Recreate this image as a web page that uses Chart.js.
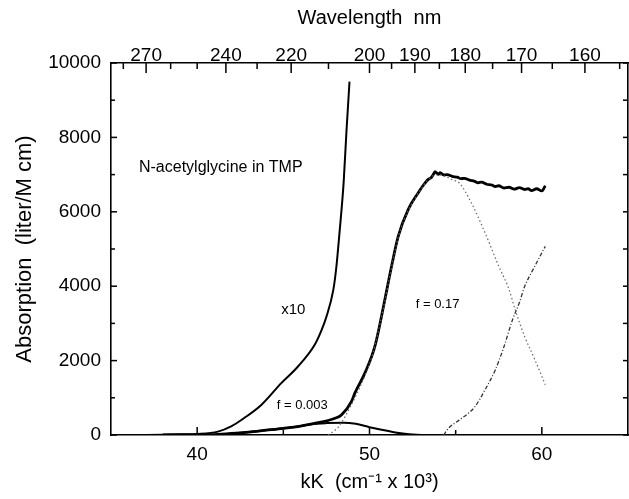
<!DOCTYPE html>
<html>
<head>
<meta charset="utf-8">
<script src="https://cdn.jsdelivr.net/npm/chart.js@4.4.0/dist/chart.umd.min.js"></script>
<style>
  html, body { margin: 0; padding: 0; background: #fff; }
  #wrap { width: 629px; height: 499px; }
</style>
</head>
<body>
<div id="wrap"><canvas id="grafico" width="629" height="499"></canvas></div>
<script>
// axis ticks
const kkTicks = [40, 45, 50, 55, 60];
const kkLabels = [40, 50, 60];
const absTicks = [0, 1000, 2000, 3000, 4000, 5000, 6000, 7000, 8000, 9000, 10000];
const absLabels = [0, 2000, 4000, 6000, 8000, 10000];
const nmTicks = [280, 270, 260, 250, 240, 230, 220, 210, 200, 195, 190, 185, 180, 175, 170, 165, 160, 155];
const nmLabels = [270, 240, 220, 200, 190, 180, 170, 160];

// x10 spectrum (low energy tail, scaled)
const kkX10 = [37, 38, 39, 40, 41.2, 42.0, 42.56, 43.72, 44.88, 45.85, 46.82, 47.2, 47.5, 47.9, 48.08, 48.26, 48.5, 48.66, 48.84];
const absX10 = [0, 10, 20, 30, 90, 240, 404, 809, 1393, 1841, 2426, 2800, 3180, 3900, 4530, 5440, 6790, 8140, 9500];

// measured spectrum
const kkMain = [38, 40, 41, 42, 43, 44, 45, 46, 46.6, 47.1, 47.6, 48.0, 48.37, 48.95, 49.15, 49.73, 50.31, 50.89, 51.28, 51.67, 52.25, 52.83, 53.1, 53.41, 53.6, 53.7, 53.8, 53.99, 54.1, 54.3, 54.5, 54.8, 55.1, 55.3, 55.5, 55.8, 56.1, 56.3, 56.5, 56.8, 57.1, 57.3, 57.5, 57.8, 58.1, 58.4, 58.7, 59.0, 59.2, 59.4, 59.7, 60.0, 60.2];
const absMain = [0, 0, 10, 40, 80, 130, 180, 240, 290, 340, 390, 450, 540, 898, 1124, 1663, 2380, 3638, 4536, 5344, 6064, 6514, 6700, 6872, 6930, 7000, 7080, 7007, 7050, 6990, 7000, 6950, 6930, 6890, 6900, 6850, 6820, 6780, 6800, 6740, 6720, 6680, 6700, 6640, 6660, 6610, 6650, 6600, 6620, 6570, 6620, 6560, 6700];

// f = 0.003 band
const kkBand1 = [41, 42, 43, 44, 45, 46, 46.6, 47.5, 48.5, 49.2, 50, 50.7, 51.5, 52.3, 53];
const absBand1 = [0, 40, 80, 130, 180, 240, 290, 320, 330, 300, 210, 140, 70, 20, 0];

// f = 0.17 band
const kkBand2 = [47.6, 48.2, 49.0, 49.7, 50.2, 50.89, 51.28, 51.67, 52.25, 52.83, 53.41, 53.9, 54.4, 54.8, 55.2, 55.9, 56.7, 57.5, 58.1, 58.45, 59.0, 59.6, 60.2];
const absBand2 = [0, 220, 860, 1560, 2200, 3600, 4500, 5320, 6040, 6490, 6860, 7000, 6950, 6860, 6780, 6250, 5440, 4540, 3910, 3370, 2650, 2020, 1350];

// next band rising at high energy
const kkBand3 = [54.3, 54.6, 55.2, 56.1, 56.7, 57.3, 57.8, 58.3, 58.7, 59.0, 59.4, 59.8, 60.2];
const absBand3 = [0, 190, 400, 750, 1210, 1750, 2370, 3100, 3560, 3990, 4370, 4720, 5070];

const notas = [
    { text: 'N-acetylglycine in TMP', x: 41.37, y: 7196, size: 16 },
    { text: 'x10', x: 45.58, y: 3369, size: 15 },
    { text: 'f = 0.003', x: 46.1, y: 808, size: 13 },
    { text: 'f = 0.17', x: 53.95, y: 3504, size: 13 }
];

function pontos(xs, ys) {
    return xs.map((x, i) => ({ x: x, y: ys[i] }));
}

function linha(ctx, x1, y1, x2, y2) {
    ctx.beginPath();
    ctx.moveTo(x1, y1);
    ctx.lineTo(x2, y2);
    ctx.stroke();
}

// ticks pointing into the plot, plus the text labels
const marcas = {
    id: 'marcas',
    afterDraw(chart) {
        const ctx = chart.ctx;
        const a = chart.chartArea;
        const s = chart.scales;
        ctx.save();
        ctx.strokeStyle = '#000';
        ctx.lineWidth = 1.5;
        kkTicks.forEach(v => {
            const p = s.x.getPixelForValue(v);
            linha(ctx, p, a.bottom, p, a.bottom - (kkLabels.includes(v) ? 8 : 5));
        });
        nmTicks.forEach(nm => {
            const p = s.xTop.getPixelForValue(1e4 / nm);
            linha(ctx, p, a.top, p, a.top + (nmLabels.includes(nm) ? 10 : 6));
        });
        absTicks.forEach(v => {
            const p = s.y.getPixelForValue(v);
            linha(ctx, a.left, p, a.left + (absLabels.includes(v) ? 6 : 4), p);
            linha(ctx, a.right, p, a.right - 5, p);
        });
        ctx.fillStyle = '#000';
        ctx.textAlign = 'center';
        ctx.textBaseline = 'middle';
        notas.forEach(n => {
            ctx.font = n.size + 'px "Liberation Sans", Arial, sans-serif';
            ctx.fillText(n.text, s.x.getPixelForValue(n.x), s.y.getPixelForValue(n.y));
        });
        ctx.restore();
    }
};

Chart.defaults.font.family = '"Liberation Sans", Arial, sans-serif';
Chart.defaults.color = '#000';

const eixoBorda = { display: true, color: '#000', width: 1.6 };
const semGrade = { display: false, drawTicks: false };

new Chart(document.getElementById('grafico').getContext('2d'), {
    type: 'scatter',
    data: {
        datasets: [
            {
                data: pontos(kkBand2, absBand2),
                showLine: true,
                borderColor: '#666',
                borderWidth: 1.2,
                borderDash: [1.5, 2.5],
                pointRadius: 0,
                cubicInterpolationMode: 'monotone'
            },
            {
                data: pontos(kkBand3, absBand3),
                showLine: true,
                borderColor: '#333',
                borderWidth: 1.3,
                borderDash: [4, 2, 1, 2],
                pointRadius: 0,
                cubicInterpolationMode: 'monotone'
            },
            {
                data: pontos(kkBand1, absBand1),
                showLine: true,
                borderColor: '#000',
                borderWidth: 2,
                pointRadius: 0,
                cubicInterpolationMode: 'monotone'
            },
            {
                data: pontos(kkX10, absX10),
                showLine: true,
                borderColor: '#000',
                borderWidth: 2,
                pointRadius: 0,
                cubicInterpolationMode: 'monotone'
            },
            {
                data: pontos(kkMain, absMain),
                showLine: true,
                borderColor: '#000',
                borderWidth: 2.8,
                pointRadius: 0,
                cubicInterpolationMode: 'monotone'
            }
        ]
    },
    options: {
        responsive: false,
        animation: false,
        layout: { padding: 0 },
        plugins: {
            legend: { display: false },
            tooltip: { enabled: false }
        },
        scales: {
            x: {
                type: 'linear',
                position: 'bottom',
                min: 35,
                max: 65,
                afterBuildTicks: sc => { sc.ticks = kkTicks.map(v => ({ value: v })); },
                afterFit: sc => { sc.height = 64; },
                grid: semGrade,
                border: eixoBorda,
                ticks: {
                    autoSkip: false,
                    maxRotation: 0,
                    padding: 8,
                    font: { size: 19 },
                    callback: v => kkLabels.includes(v) ? String(v) : ''
                },
                title: {
                    display: true,
                    text: 'kK  (cm⁻¹ x 10³)',
                    font: { size: 20 },
                    padding: { top: 0, bottom: 5 }
                }
            },
            xTop: {
                type: 'linear',
                position: 'top',
                min: 35,
                max: 65,
                afterBuildTicks: sc => { sc.ticks = nmTicks.map(nm => ({ value: 1e4 / nm })); },
                afterFit: sc => { sc.height = 63; },
                grid: semGrade,
                border: eixoBorda,
                ticks: {
                    autoSkip: false,
                    maxRotation: 0,
                    padding: -4,
                    font: { size: 19 },
                    callback: v => {
                        const nm = Math.round(1e4 / v);
                        return nmLabels.includes(nm) ? String(nm) : '';
                    }
                },
                title: {
                    display: true,
                    text: 'Wavelength  nm',
                    font: { size: 20 },
                    padding: { top: 6, bottom: 0 }
                }
            },
            y: {
                type: 'linear',
                position: 'left',
                min: 0,
                max: 10000,
                afterBuildTicks: sc => { sc.ticks = absTicks.map(v => ({ value: v })); },
                afterFit: sc => { sc.width = 111; },
                grid: semGrade,
                border: eixoBorda,
                ticks: {
                    autoSkip: false,
                    padding: 10,
                    font: { size: 19 },
                    callback: v => absLabels.includes(v) ? String(v) : ''
                },
                title: {
                    display: true,
                    text: 'Absorption  (liter/M cm)',
                    font: { size: 22 },
                    padding: { top: 12, bottom: 0 }
                }
            },
            yRight: {
                type: 'linear',
                position: 'right',
                min: 0,
                max: 10000,
                afterFit: sc => { sc.width = 1; },
                grid: semGrade,
                border: eixoBorda,
                ticks: { display: false }
            }
        }
    },
    plugins: [marcas]
});
</script>
</body>
</html>
